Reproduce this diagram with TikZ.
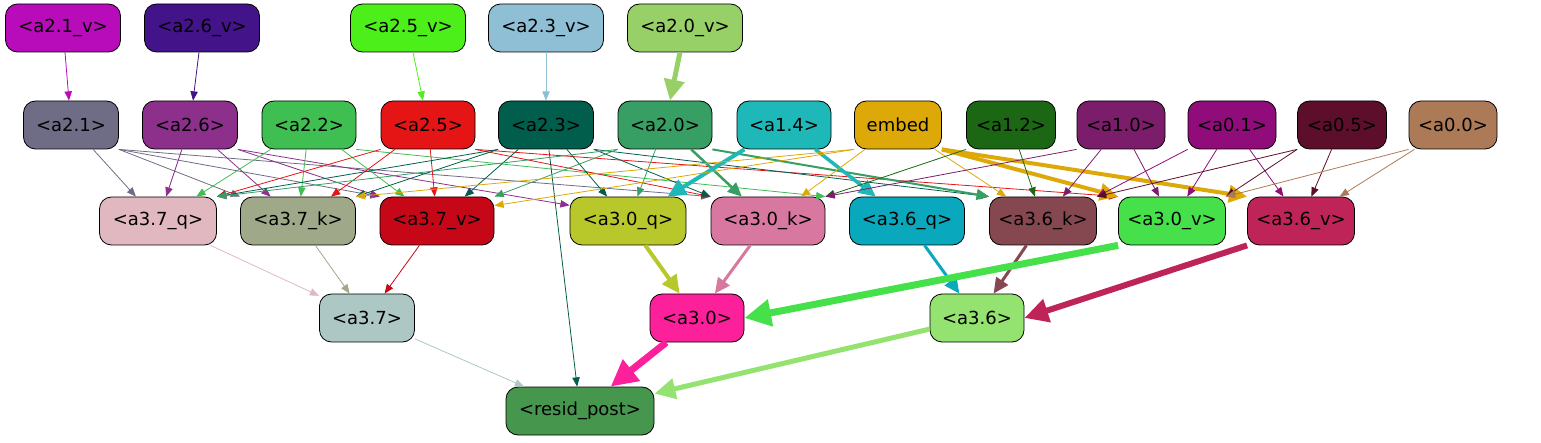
\documentclass[tikz,border=0pt]{standalone}
\usepackage{fontspec}
\setmainfont{DejaVu Sans}
\usetikzlibrary{arrows.meta}

\definecolor{c21v}{HTML}{B80CBA}
\definecolor{c26v}{HTML}{43138A}
\definecolor{c25v}{HTML}{4CEF19}
\definecolor{c23v}{HTML}{8EBFD4}
\definecolor{c20v}{HTML}{98D068}
\definecolor{c21}{HTML}{6F6D85}
\definecolor{c26}{HTML}{8C308C}
\definecolor{c22}{HTML}{3FBF52}
\definecolor{c25}{HTML}{E51515}
\definecolor{c23}{HTML}{025E4C}
\definecolor{c20}{HTML}{389F64}
\definecolor{c14}{HTML}{1FB8B8}
\definecolor{cemb}{HTML}{DCA908}
\definecolor{c12}{HTML}{1C6713}
\definecolor{c10}{HTML}{7B1D6A}
\definecolor{c01}{HTML}{900C7A}
\definecolor{c05}{HTML}{5D0E2A}
\definecolor{c00}{HTML}{AC7A56}
\definecolor{c37q}{HTML}{E1B8C0}
\definecolor{c37k}{HTML}{9FA888}
\definecolor{c37v}{HTML}{C60718}
\definecolor{c30q}{HTML}{B8C82A}
\definecolor{c30k}{HTML}{D878A0}
\definecolor{c36q}{HTML}{09A8BC}
\definecolor{c36k}{HTML}{854850}
\definecolor{c30v}{HTML}{45E04A}
\definecolor{c36v}{HTML}{BE2458}
\definecolor{c37}{HTML}{ADC8C4}
\definecolor{c30}{HTML}{FD209B}
\definecolor{c36}{HTML}{94E26F}
\definecolor{cres}{HTML}{47964E}

\tikzset{
    box/.style={draw=black, line width=0.8pt, rounded corners=12pt, minimum height=48pt,
        inner sep=0pt, font=\fontsize{18pt}{20pt}\selectfont},
    ed/.style={-{Triangle[length=7pt 2.8, width=5pt 3]}, line width=0.8pt},
}

\begin{document}
\begin{tikzpicture}[x=1pt, y=-1pt]
    \useasboundingbox (0,0) rectangle (1541,443);

    % Value inputs
    \node[box, fill=c21v, minimum width=115pt] (a21v) at (63,28) {<a2.1\_v>};
    \node[box, fill=c26v, minimum width=115pt] (a26v) at (202,28) {<a2.6\_v>};
    \node[box, fill=c25v, minimum width=115pt] (a25v) at (408,28) {<a2.5\_v>};
    \node[box, fill=c23v, minimum width=115pt] (a23v) at (546,28) {<a2.3\_v>};
    \node[box, fill=c20v, minimum width=115pt] (a20v) at (685,28) {<a2.0\_v>};

    % Second layer
    \node[box, fill=c21, minimum width=95pt] (a21) at (71,125) {<a2.1>};
    \node[box, fill=c26, minimum width=95pt] (a26) at (190,125) {<a2.6>};
    \node[box, fill=c22, minimum width=94pt] (a22) at (309,125) {<a2.2>};
    \node[box, fill=c25, minimum width=94pt] (a25) at (428,125) {<a2.5>};
    \node[box, fill=c23, minimum width=95pt] (a23) at (546,125) {<a2.3>};
    \node[box, fill=c20, minimum width=94pt] (a20) at (665,125) {<a2.0>};
    \node[box, fill=c14, minimum width=94pt] (a14) at (784,125) {<a1.4>};
    \node[box, fill=cemb, minimum width=87pt] (emb) at (898,125) {embed};
    \node[box, fill=c12, minimum width=89pt] (a12) at (1011,125) {<a1.2>};
    \node[box, fill=c10, minimum width=88pt] (a10) at (1121,125) {<a1.0>};
    \node[box, fill=c01, minimum width=88pt] (a01) at (1232,125) {<a0.1>};
    \node[box, fill=c05, minimum width=89pt] (a05) at (1342,125) {<a0.5>};
    \node[box, fill=c00, minimum width=88pt] (a00) at (1453,125) {<a0.0>};

    % Third layer
    \node[box, fill=c37q, minimum width=117pt] (a37q) at (158,221) {<a3.7\_q>};
    \node[box, fill=c37k, minimum width=115pt] (a37k) at (298,221) {<a3.7\_k>};
    \node[box, fill=c37v, minimum width=114pt] (a37v) at (437,221) {<a3.7\_v>};
    \node[box, fill=c30q, minimum width=116pt] (a30q) at (628,221) {<a3.0\_q>};
    \node[box, fill=c30k, minimum width=114pt] (a30k) at (768,221) {<a3.0\_k>};
    \node[box, fill=c36q, minimum width=115pt] (a36q) at (907,221) {<a3.6\_q>};
    \node[box, fill=c36k, minimum width=107pt] (a36k) at (1043,221) {<a3.6\_k>};
    \node[box, fill=c30v, minimum width=107pt] (a30v) at (1172,221) {<a3.0\_v>};
    \node[box, fill=c36v, minimum width=107pt] (a36v) at (1301,221) {<a3.6\_v>};

    % Fourth layer and output
    \node[box, fill=c37, minimum width=95pt] (a37) at (367,318) {<a3.7>};
    \node[box, fill=c30, minimum width=94pt] (a30) at (697,318) {<a3.0>};
    \node[box, fill=c36, minimum width=94pt] (a36) at (977,318) {<a3.6>};
    \node[box, fill=cres, minimum width=148pt] (resid) at (580,411) {<resid\_post>};

    % Value edges
    \draw[ed, c21v] (a21v) -- (a21);
    \draw[ed, c26v] (a26v) -- (a26);
    \draw[ed, c25v] (a25v) -- (a25);
    \draw[ed, c23v] (a23v) -- (a23);
    \draw[ed, c20v, line width=5pt] (a20v) -- (a20);

    % From a2.1, a2.6, a2.2, a2.5
    \draw[ed, c21] (a21) -- (a37q);
    \draw[ed, c21] (a21.south east) -- (a37k.north west);
    \draw[ed, c21] (a21.south east) -- (a37v.north west);
    \draw[ed, c21] (a21.south east) -- (a30k.north west);
    \draw[ed, c26] (a26) -- (a37q);
    \draw[ed, c26] (a26) -- (a37k);
    \draw[ed, c26] (a26.south east) -- (a37v.north west);
    \draw[ed, c26] (a26.south east) -- (a30q.165);
    \draw[ed, c22] (a22) -- (a37q);
    \draw[ed, c22] (a22) -- (a37k);
    \draw[ed, c22] (a22) -- (a37v);
    \draw[ed, c22] (a22.south east) -- (a30k.north east);
    \draw[ed, c25] (a25.south west) -- (a37q.north east);
    \draw[ed, c25] (a25) -- (a37k);
    \draw[ed, c25] (a25) -- (a37v);
    \draw[ed, c25] (a25.south east) -- (a30k.north west);
    \draw[ed, c25] (a25.south east) -- (a30v.north west);

    % From a2.3, a2.0, a1.4
    \draw[ed, c23] (a23.south west) -- (a37q.north east);
    \draw[ed, c23] (a23.south west) -- (a37k.north east);
    \draw[ed, c23] (a23) -- (a37v);
    \draw[ed, c23] (a23) -- (a30q);
    \draw[ed, c23] (a23.south east) -- (a30k.north west);
    \draw[ed, c23] (a23.south east) -- (a36k.north west);
    \draw[ed, c23] (a23) -- (resid);
    \draw[ed, c20] (a20.south west) -- (a37q.north east);
    \draw[ed, c20] (a20.south west) -- (a37v.north east);
    \draw[ed, c20] (a20) -- (a30q);
    \draw[ed, c20, line width=2.5pt] (a20) -- (a30k);
    \draw[ed, c20, line width=2pt] (a20.south east) -- (a36k.north west);
    \draw[ed, c14, line width=4pt] (a14) -- (a30q);
    \draw[ed, c14, line width=3.5pt] (a14) -- (a36q);

    % From embed and a1.2
    \draw[ed, cemb] (emb.south west) -- (a37k.north east);
    \draw[ed, cemb] (emb.south west) -- (a37v.15);
    \draw[ed, cemb] (emb) -- (a30k);
    \draw[ed, cemb] (emb) -- (a36k);
    \draw[ed, cemb, line width=4pt] (emb.south east) -- (a30v.north west);
    \draw[ed, cemb, line width=4pt] (emb.south east) -- (a36v.north west);
    \draw[ed, c12] (a12.south west) -- (a30k.north east);
    \draw[ed, c12] (a12) -- (a36k);

    % From a1.0, a0.1, a0.5, a0.0
    \draw[ed, c10] (a10.south west) -- (a30k.north east);
    \draw[ed, c10] (a10) -- (a36k);
    \draw[ed, c10] (a10) -- (a30v);
    \draw[ed, c01] (a01.south west) -- (a36k.north east);
    \draw[ed, c01] (a01) -- (a30v);
    \draw[ed, c01] (a01) -- (a36v);
    \draw[ed, c05] (a05.south west) -- (a36k.north east);
    \draw[ed, c05] (a05.south west) -- (a30v.north east);
    \draw[ed, c05] (a05) -- (a36v);
    \draw[ed, c00] (a00.south west) -- (a30v.north east);
    \draw[ed, c00] (a00) -- (a36v);

    % Third to fourth layer
    \draw[ed, c37q] (a37q) -- (a37);
    \draw[ed, c37k] (a37k) -- (a37);
    \draw[ed, c37v] (a37v) -- (a37);
    \draw[ed, c30q, line width=4pt] (a30q) -- (a30);
    \draw[ed, c30k, line width=3pt] (a30k) -- (a30);
    \draw[ed, c36q, line width=3pt] (a36q) -- (a36);
    \draw[ed, c36k, line width=3pt] (a36k) -- (a36);
    \draw[ed, c30v, line width=7pt] (a30v.south west) -- (a30.east);
    \draw[ed, c36v, line width=6pt] (a36v.south west) -- (a36.east);

    % Into resid_post
    \draw[ed, c37] (a37) -- (resid);
    \draw[ed, c30, line width=7pt] (a30) -- (resid);
    \draw[ed, c36, line width=5pt] (a36) -- (resid);
\end{tikzpicture}
\end{document}
